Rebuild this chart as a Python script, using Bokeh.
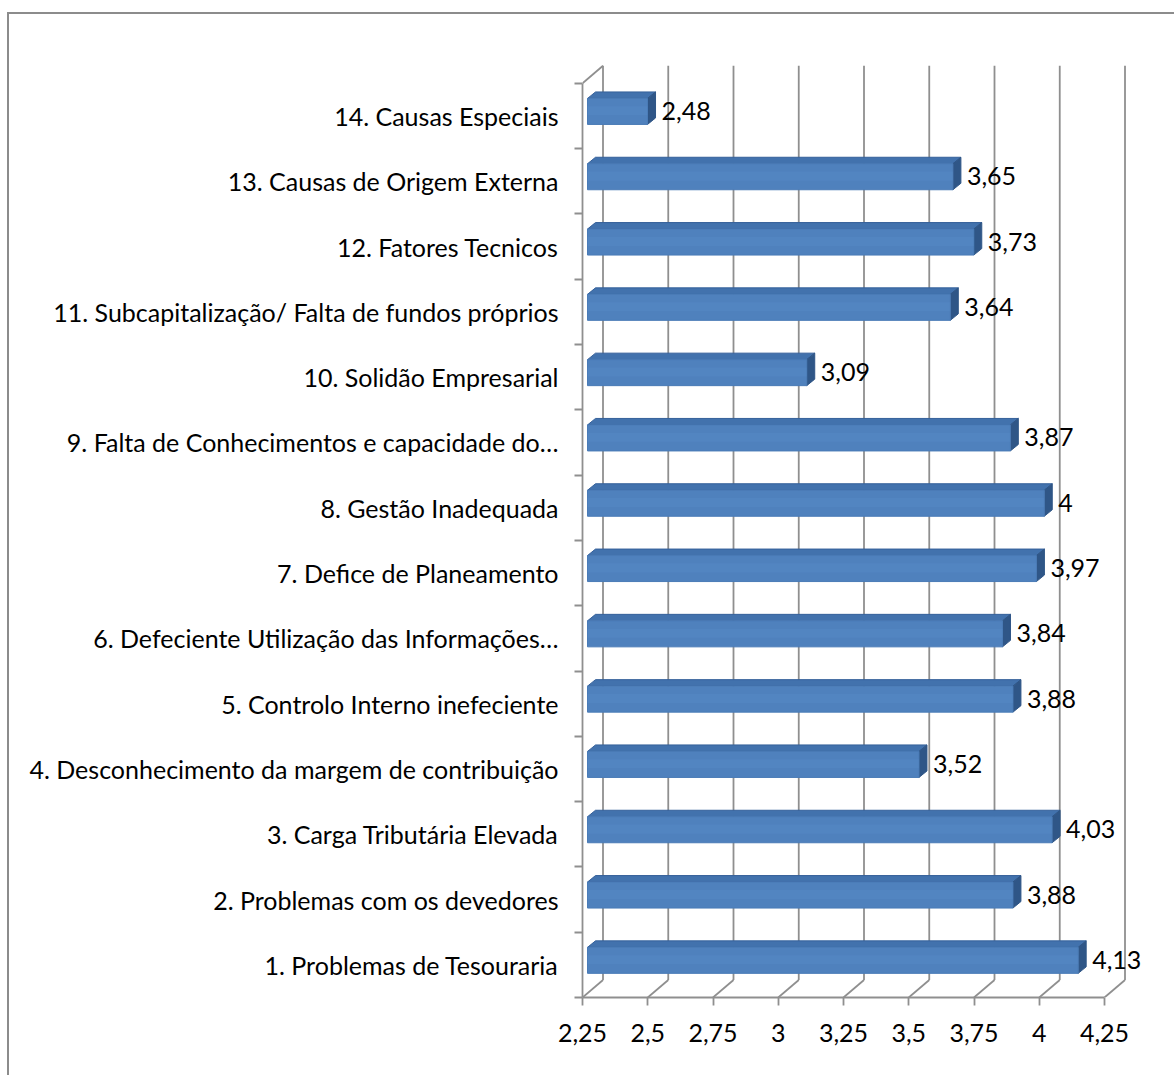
from bokeh.plotting import figure
from bokeh.models import Range1d, FixedTicker
from bokeh.embed import file_html
from bokeh.resources import INLINE
from bokeh.core.properties import value

# ---------------- data ----------------
categories = [
    "1. Problemas de Tesouraria",
    "2. Problemas com os devedores",
    "3. Carga Tributária Elevada",
    "4. Desconhecimento da margem de contribuição",
    "5. Controlo Interno inefeciente",
    "6. Defeciente Utilização das Informações…",
    "7. Defice de Planeamento",
    "8. Gestão Inadequada",
    "9. Falta de Conhecimentos e capacidade do…",
    "10. Solidão Empresarial",
    "11. Subcapitalização/ Falta de fundos próprios",
    "12. Fatores Tecnicos",
    "13. Causas de Origem Externa",
    "14. Causas Especiais",
]
values = [4.13, 3.88, 4.03, 3.52, 3.88, 3.84, 3.97, 4.0, 3.87, 3.09, 3.64, 3.73, 3.65, 2.48]
value_labels = ["4,13", "3,88", "4,03", "3,52", "3,88", "3,84", "3,97", "4", "3,87", "3,09",
                "3,64", "3,73", "3,65", "2,48"]
x_ticks = [2.25, 2.5, 2.75, 3.0, 3.25, 3.5, 3.75, 4.0, 4.25]
x_tick_labels = ["2,25", "2,5", "2,75", "3", "3,25", "3,5", "3,75", "4", "4,25"]

# ---------------- layout constants ----------------
W, H = 1167, 1063
BL, BR, BT, BB = 573, 18, 46, 80
PX_X = 261.0      # pixels per value unit
PX_Y = 65.3       # pixels per category band
X0 = x_ticks[0]
X1 = x_ticks[-1]
frame_w = W - BL - BR
frame_h = H - BT - BB
x_end = X0 + frame_w / PX_X
y_end = frame_h / PX_Y
n = len(categories)


def dxp(px):
    return px / PX_X


def dyp(px):
    return px / PX_Y


DEPTH_X, DEPTH_Y = 20.5, 17.5          # full 3D depth offset in px
BAR_FX, BAR_FY = 5.0, 4.5              # bar front-face offset
BAR_DX, BAR_DY = 8.0, 6.5              # bar depth
BAR_H = 26.0                           # bar front-face height
GRID = "#8f8f8f"
FONT = "Lato"
FS = "25px"

p = figure(width=W, height=H, output_backend="svg", toolbar_location=None,
           x_range=Range1d(X0, x_end), y_range=Range1d(0, y_end),
           min_border_left=BL, min_border_right=BR, min_border_top=BT,
           min_border_bottom=BB)
p.outline_line_color = None
p.xgrid.visible = False
p.ygrid.visible = False
p.background_fill_color = "white"
p.border_fill_color = "white"
p.styles = {"border-left": "2px solid #8c8c8c", "border-top": "2px solid #8c8c8c",
            "margin-top": "12px", "margin-left": "7px"}

# ---------------- 3D walls ----------------
top_y = n + dyp(DEPTH_Y)
back_x = [t + dxp(DEPTH_X) for t in x_ticks]
# floor diagonals
p.segment(x0=x_ticks, y0=[0] * len(x_ticks), x1=back_x,
          y1=[dyp(DEPTH_Y)] * len(x_ticks), line_color=GRID, line_width=1.8)
# back wall verticals
p.segment(x0=back_x, y0=[dyp(DEPTH_Y)] * len(x_ticks), x1=back_x,
          y1=[top_y] * len(x_ticks), line_color=GRID, line_width=1.8)
# left wall top diagonal
p.segment(x0=[X0], y0=[n], x1=[X0 + dxp(DEPTH_X)], y1=[top_y],
          line_color=GRID, line_width=1.8)

# ---------------- bars ----------------
centers = [i + 0.5 for i in range(n)]
left = X0 + dxp(BAR_FX)
rights = [v + dxp(BAR_FX) for v in values]
bottoms = [c + dyp(BAR_FY) - dyp(BAR_H / 2) for c in centers]
tops = [c + dyp(BAR_FY) + dyp(BAR_H / 2) for c in centers]

top_xs, top_ys, side_xs, side_ys = [], [], [], []
for r, b, t in zip(rights, bottoms, tops):
    top_xs.append([left, r, r + dxp(BAR_DX), left + dxp(BAR_DX)])
    top_ys.append([t, t, t + dyp(BAR_DY), t + dyp(BAR_DY)])
    side_xs.append([r, r + dxp(BAR_DX), r + dxp(BAR_DX), r])
    side_ys.append([b, b + dyp(BAR_DY), t + dyp(BAR_DY), t])

p.patches(top_xs, top_ys, fill_color="#4272ad", line_color="#35609a", line_width=1)
p.patches(side_xs, side_ys, fill_color="#2f5687", line_color="#2f5687", line_width=1)
p.quad(left=[left] * n, right=rights, bottom=bottoms, top=tops,
       fill_color="#4f81bd", line_color="#4a7bb6", line_width=1)
# subtle highlight band on the front face
p.quad(left=[left] * n, right=rights,
       bottom=[b + dyp(BAR_H * 0.35) for b in bottoms],
       top=[b + dyp(BAR_H * 0.7) for b in bottoms],
       fill_color="#5a8cc8", fill_alpha=0.35, line_color=None)

# ---------------- data labels ----------------
p.text(x=[v + dxp(19) for v in values], y=[c + dyp(5) for c in centers],
       text=value_labels, text_align="left", text_baseline="middle",
       text_font=value(FONT), text_font_size=FS, text_color="black")

# ---------------- axes ----------------
xa = p.xaxis[0]
xa.ticker = FixedTicker(ticks=x_ticks)
xa.major_label_overrides = {t: s for t, s in zip(x_ticks, x_tick_labels)}
xa.bounds = (X0, X1)
xa.axis_line_color = GRID
xa.axis_line_width = 1.8
xa.major_tick_line_color = GRID
xa.major_tick_line_width = 1.8
xa.major_tick_out = 8
xa.major_tick_in = 0
xa.minor_tick_line_color = None
xa.major_label_standoff = 18
xa.major_label_text_font = FONT
xa.major_label_text_font_size = FS
xa.major_label_text_color = "black"

ya = p.yaxis[0]
ya.ticker = FixedTicker(ticks=centers, minor_ticks=list(range(n + 1)))
ya.major_label_overrides = {c: s for c, s in zip(centers, categories)}
ya.bounds = (0, n)
ya.axis_line_color = GRID
ya.axis_line_width = 1.8
ya.major_tick_line_color = None
ya.major_tick_out = 0
ya.major_tick_in = 0
ya.minor_tick_line_color = GRID
ya.minor_tick_line_width = 1.8
ya.minor_tick_out = 8
ya.minor_tick_in = 0
ya.major_label_standoff = 16
ya.major_label_text_font = FONT
ya.major_label_text_font_size = FS
ya.major_label_text_color = "black"

open("out.html", "w").write(file_html(p, INLINE))
